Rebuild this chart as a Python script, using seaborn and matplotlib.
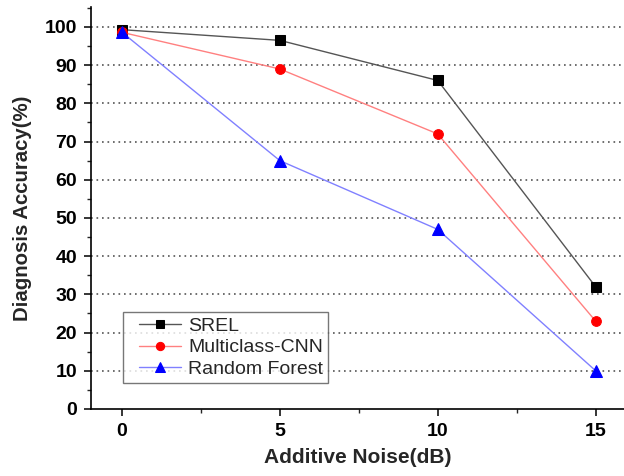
import numpy as np
import pandas as pd
import matplotlib
matplotlib.use("Agg")
import matplotlib.pyplot as plt
import seaborn as sns
from matplotlib.lines import Line2D
from matplotlib.legend_handler import HandlerLine2D
from matplotlib.ticker import MultipleLocator

# Data
noise_db = [0, 5, 10, 15]
srel = [99.3, 96.5, 86.0, 32.0]
multiclass_cnn = [98.6, 89.0, 72.0, 23.0]
random_forest = [98.6, 65.0, 47.0, 10.0]

series_names = ["SREL", "Multiclass-CNN", "Random Forest"]
line_colors = ["#555555", "#ff8080", "#8080ff"]
marker_colors = ["#000000", "#ff0000", "#0000ff"]
markers = ["s", "o", "^"]
marker_sizes = [6.5, 7, 8]

sns.set_style("white")
plt.rcParams['font.family'] = ['Liberation Sans', 'DejaVu Sans']

df = pd.DataFrame({
    "noise": noise_db * 3,
    "acc": srel + multiclass_cnn + random_forest,
    "model": [n for n in series_names for _ in noise_db],
})

fig = plt.figure(figsize=(6.24, 4.76), dpi=100)
ax = fig.add_axes([0.146, 0.141, 0.854, 0.844])

for name, lc, mc, mk, ms in zip(series_names, line_colors, marker_colors, markers, marker_sizes):
    sub = df[df["model"] == name]
    sns.lineplot(data=sub, x="noise", y="acc", ax=ax, color=lc, linewidth=1.0,
                 marker=mk, markersize=ms, markerfacecolor=mc,
                 markeredgecolor=mc, label=name)

# dotted horizontal grid
for yv in range(10, 101, 10):
    ax.axhline(yv, color="#555555", linestyle=(0, (1, 2.3)), linewidth=1.2, zorder=0)

ax.set_xlim(-0.98, 15.9)
ax.set_ylim(0, 105.2)
ax.xaxis.set_major_locator(MultipleLocator(5))
ax.xaxis.set_minor_locator(MultipleLocator(2.5))
ax.yaxis.set_major_locator(MultipleLocator(10))
ax.yaxis.set_minor_locator(MultipleLocator(5))
ax.tick_params(which="major", direction="out", length=5, width=1.1, colors="black",
               labelsize=14, left=True, bottom=True)
ax.tick_params(axis="x", which="major", pad=5)
ax.tick_params(axis="y", which="major", pad=5)
ax.tick_params(which="minor", direction="out", length=3, width=1.0, left=True, bottom=True)
for lbl in ax.get_xticklabels() + ax.get_yticklabels():
    lbl.set_fontweight("bold")

for side in ["top", "right"]:
    ax.spines[side].set_visible(False)
for side in ["left", "bottom"]:
    ax.spines[side].set_color("black")
    ax.spines[side].set_linewidth(1.2)

ax.set_xlabel("Additive Noise(dB)", fontsize=15, fontweight="bold", labelpad=6)
ax.set_ylabel("Diagnosis Accuracy(%)", fontsize=14.7, fontweight="bold", labelpad=9)

leg = ax.legend(loc="lower left", bbox_to_anchor=(0.06, 0.065), borderaxespad=0,
                fancybox=False, frameon=True, fontsize=14, handlelength=2.75,
                handletextpad=0.36, borderpad=0.25, labelspacing=0.2, markerscale=0.85,
                handler_map={Line2D: HandlerLine2D(xpad=0.57)})
leg.get_frame().set_edgecolor("#555555")
leg.get_frame().set_linewidth(1.0)

fig.savefig("out.png", dpi=100)
